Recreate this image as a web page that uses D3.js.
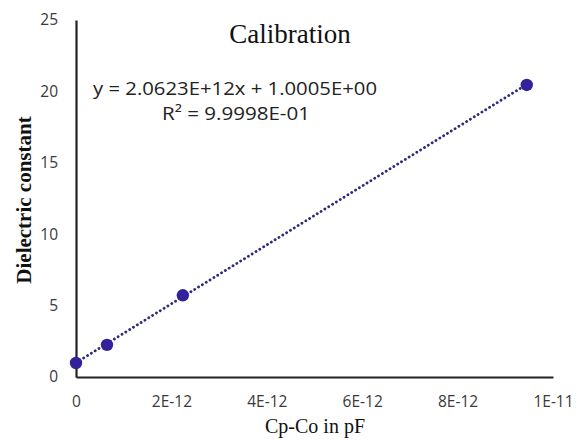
<!DOCTYPE html>
<html><head><meta charset="utf-8">
<script src="https://cdn.jsdelivr.net/npm/d3@7"></script>
<style>body{margin:0;background:#fff}</style>
</head><body>
<script>
const xValues = [0, 0.65e-12, 2.24e-12, 9.45e-12];
const yValues = [0.98, 2.25, 5.72, 20.45];
const xTicks = [0, 2e-12, 4e-12, 6e-12, 8e-12, 1e-11];
const xTickLabels = ["0", "2E-12", "4E-12", "6E-12", "8E-12", "1E-11"];
const yTicks = [0, 5, 10, 15, 20, 25];
const slope = 2.0623e12, intercept = 1.0005;
const titleText = "Calibration";
const eqText = "y = 2.0623E+12x + 1.0005E+00";
const r2Text = "R² = 9.9998E-01";
const xLabel = "Cp-Co in pF";
const yLabel = "Dielectric constant";

const W = 578, H = 440;
const svg = d3.select("body").append("svg").attr("width", W).attr("height", H);
const x = d3.scaleLinear().domain([0, 1e-11]).range([76, 553]);
const y = d3.scaleLinear().domain([0, 25]).range([377, 20]);
const sans = "'Open Sans', 'Liberation Sans', sans-serif";
const serif = "'Liberation Serif', 'DejaVu Serif', serif";

// axes
const xAxis = d3.axisBottom(x).tickValues(xTicks).tickSize(0).tickPadding(19)
  .tickFormat((d, i) => xTickLabels[i]);
const gx = svg.append("g").attr("transform", `translate(0,${y(0)})`).call(xAxis);
gx.select(".domain").attr("stroke", "#222").attr("stroke-width", 2.2);
gx.selectAll("text").attr("font-family", sans).attr("font-size", 15.5).attr("fill", "#3a3a3a");

const yAxis = d3.axisLeft(y).tickValues(yTicks).tickSize(0).tickPadding(18);
const gy = svg.append("g").attr("transform", `translate(${x(0)},0)`).call(yAxis);
gy.select(".domain").attr("stroke", "#222").attr("stroke-width", 2.2);
gy.selectAll("text").attr("font-family", sans).attr("font-size", 15.5).attr("fill", "#3a3a3a");

// trendline
const xEnd = xValues[xValues.length - 1];
svg.append("line")
  .attr("x1", x(0)).attr("y1", y(intercept))
  .attr("x2", x(xEnd)).attr("y2", y(slope * xEnd + intercept))
  .attr("stroke", "#2b2a7c").attr("stroke-width", 2.8)
  .attr("stroke-dasharray", "0.1 4.4").attr("stroke-linecap", "round");

// points
svg.selectAll("circle.pt").data(xValues).enter().append("circle")
  .attr("class", "pt")
  .attr("cx", d => x(d)).attr("cy", (d, i) => y(yValues[i]))
  .attr("r", 6.2).attr("fill", "#33229a");

// texts
svg.append("text").attr("x", 290).attr("y", 43).attr("text-anchor", "middle")
  .attr("font-family", serif).attr("font-size", 27).attr("fill", "#111").text(titleText);
svg.append("text").attr("x", 93).attr("y", 95)
  .attr("font-family", sans).attr("font-size", 18).attr("fill", "#222")
  .attr("textLength", 284).attr("lengthAdjust", "spacingAndGlyphs").text(eqText);
svg.append("text").attr("x", 162).attr("y", 120)
  .attr("font-family", sans).attr("font-size", 18).attr("fill", "#222")
  .attr("textLength", 148).attr("lengthAdjust", "spacingAndGlyphs").text(r2Text);
svg.append("text").attr("x", 315).attr("y", 433).attr("text-anchor", "middle")
  .attr("font-family", serif).attr("font-size", 20).attr("fill", "#111").text(xLabel);
svg.append("text").attr("transform", "translate(31,200) rotate(-90)").attr("text-anchor", "middle")
  .attr("font-family", serif).attr("font-size", 21).attr("font-weight", "bold").attr("fill", "#111").text(yLabel);
</script>
</body></html>
